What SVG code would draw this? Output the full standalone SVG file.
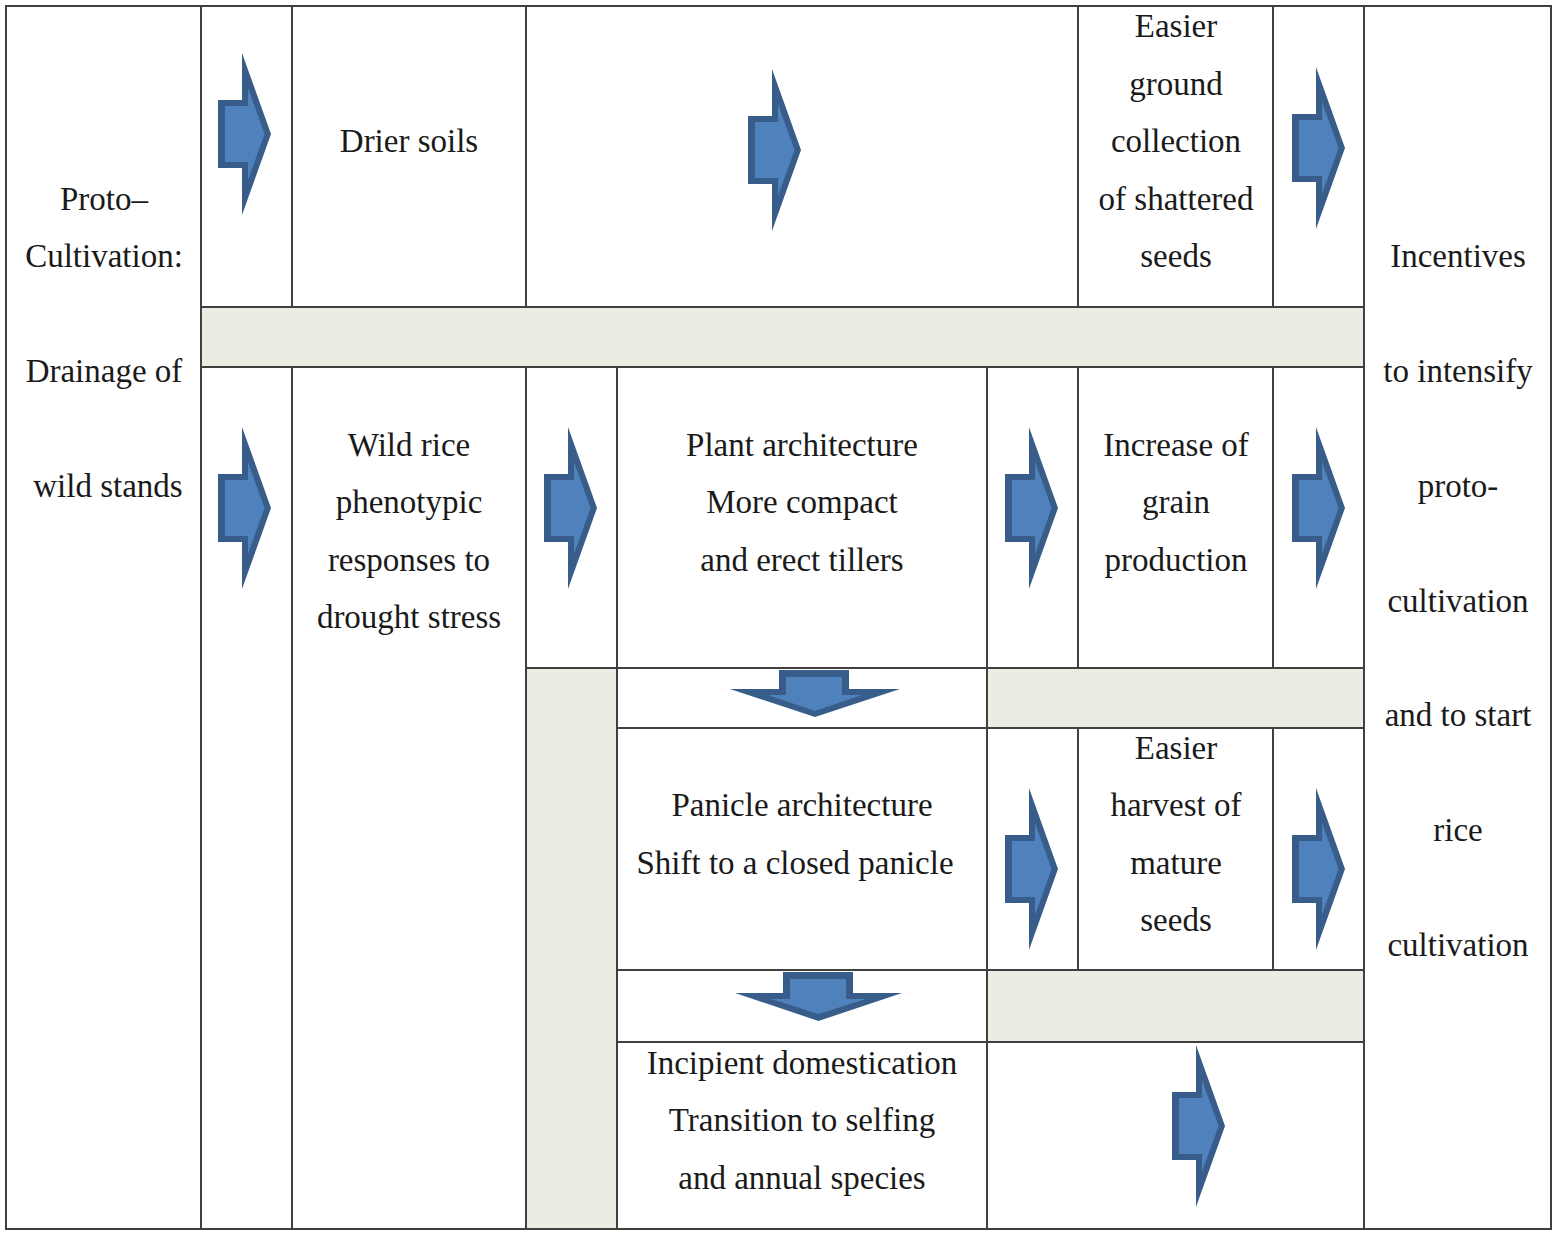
<svg xmlns="http://www.w3.org/2000/svg" xmlns:xlink="http://www.w3.org/1999/xlink" width="1558" height="1236" viewBox="0 0 1558 1236">
<style>
.t{font-family:"Liberation Serif","Times New Roman",serif;font-size:33px;fill:#1a1a1a;text-anchor:middle}
.g{fill:#EDECE2}
.ln{stroke:#404040;stroke-width:2;fill:none}
.ao{fill:#385D8A}
.ai{fill:#4F81BD}
</style>
<defs>
<g id="ra">
<path class="ao" d="M0,-34 H24 V-81 L53,0 L24,81 V34 H0 Z"/>
<path class="ai" d="M7,-28 H30 V-46 L46.6,0 L30,46 V28 H7 Z"/>
</g>
</defs>
<rect x="0" y="0" width="1558" height="1236" fill="#fff"/>
<g id="shading">
<rect class="g" x="201" y="307" width="1163" height="60"/>
<rect class="g" x="526" y="668" width="91" height="561"/>
<rect class="g" x="987" y="668" width="377" height="60"/>
<rect class="g" x="987" y="970" width="377" height="72"/>
</g>
<g id="grid" class="ln">
<rect x="6" y="6" width="1545" height="1223"/>
<path d="M201,6 V1229 M1364,6 V1229"/>
<path d="M292,6 V307 M526,6 V307 M1078,6 V307 M1273,6 V307"/>
<path d="M292,367 V1229 M526,367 V1229 M617,367 V1229 M987,367 V1229"/>
<path d="M1078,367 V668 M1273,367 V668 M1078,728 V970 M1273,728 V970"/>
<path d="M201,307 H1364 M201,367 H1364 M526,668 H1364 M617,728 H1364 M617,970 H1364 M617,1042 H1364"/>
</g>
<g id="connectors">
<use xlink:href="#ra" x="218" y="134"/>
<use xlink:href="#ra" x="748" y="150"/>
<use xlink:href="#ra" x="1292" y="148"/>
<use xlink:href="#ra" x="218" y="508"/>
<use xlink:href="#ra" x="544" y="508"/>
<use xlink:href="#ra" x="1005" y="508"/>
<use xlink:href="#ra" x="1292" y="508"/>
<use xlink:href="#ra" x="1005" y="869"/>
<use xlink:href="#ra" x="1292" y="869"/>
<use xlink:href="#ra" x="1172" y="1126"/>
<g id="down1">
<path class="ao" d="M779,670 H849 V689 H900 L815,717 L730,689 H779 Z"/>
<path class="ai" d="M786,677 H842 V695 H862 L815,711 L768,695 H786 Z"/>
</g>
<g id="down2">
<path class="ao" d="M783,972 H853 V993 H902 L818.5,1021 L735,993 H783 Z"/>
<path class="ai" d="M790,979 H846 V999 H866 L818.5,1014 L771,999 H790 Z"/>
</g>
</g>
<g id="n-proto" class="t">
<text x="104" y="210">Proto–</text>
<text x="104" y="267">Cultivation:</text>
<text x="104" y="382">Drainage of</text>
<text x="108" y="497">wild stands</text>
</g>
<g id="n-drier" class="t"><text x="409" y="152">Drier soils</text></g>
<g id="n-easier-ground" class="t">
<text x="1176" y="37">Easier</text>
<text x="1176" y="95">ground</text>
<text x="1176" y="152">collection</text>
<text x="1176" y="210">of shattered</text>
<text x="1176" y="267">seeds</text>
</g>
<g id="n-incentives" class="t">
<text x="1458" y="267">Incentives</text>
<text x="1458" y="382">to intensify</text>
<text x="1458" y="497">proto-</text>
<text x="1458" y="612">cultivation</text>
<text x="1458" y="726">and to start</text>
<text x="1458" y="841">rice</text>
<text x="1458" y="956">cultivation</text>
</g>
<g id="n-wildrice" class="t">
<text x="409" y="456">Wild rice</text>
<text x="409" y="513">phenotypic</text>
<text x="409" y="571">responses to</text>
<text x="409" y="628">drought stress</text>
</g>
<g id="n-plant" class="t">
<text x="802" y="456">Plant architecture</text>
<text x="802" y="513">More compact</text>
<text x="802" y="571">and erect tillers</text>
</g>
<g id="n-increase" class="t">
<text x="1176" y="456">Increase of</text>
<text x="1176" y="513">grain</text>
<text x="1176" y="571">production</text>
</g>
<g id="n-panicle" class="t">
<text x="802" y="816">Panicle architecture</text>
<text x="795" y="874">Shift to a closed panicle</text>
</g>
<g id="n-easier-harvest" class="t">
<text x="1176" y="759">Easier</text>
<text x="1176" y="816">harvest of</text>
<text x="1176" y="874">mature</text>
<text x="1176" y="931">seeds</text>
</g>
<g id="n-incipient" class="t">
<text x="802" y="1074">Incipient domestication</text>
<text x="802" y="1131">Transition to selfing</text>
<text x="802" y="1189">and annual species</text>
</g>
</svg>
